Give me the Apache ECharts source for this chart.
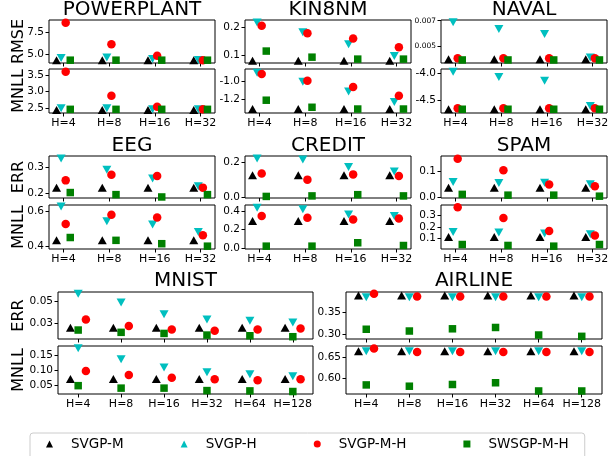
<!DOCTYPE html>
<html><head><meta charset="utf-8">
<script src="https://cdn.jsdelivr.net/npm/echarts@6/dist/echarts.min.js"></script>
<style>html,body{margin:0;padding:0;background:#fff}#c{width:614px;height:456px}</style>
</head><body><div id="c"></div>
<script>
// ---------- categories / names ----------
const catsSmall = ['H=4', 'H=8', 'H=16', 'H=32'];
const catsLarge = ['H=4', 'H=8', 'H=16', 'H=32', 'H=64', 'H=128'];
const methods = ['SVGP-M', 'SVGP-H', 'SVGP-M-H', 'SWSGP-M-H'];

// ---------- POWERPLANT ----------
const ppRMSE_M  = [4.30, 4.30, 4.30, 4.30];
const ppRMSE_H  = [4.55, 4.60, 4.42, 4.32];
const ppRMSE_MH = [8.56, 6.10, 4.80, 4.30];
const ppRMSE_SW = [4.30, 4.30, 4.30, 4.30];
const ppMNLL_M  = [2.45, 2.45, 2.45, 2.45];
const ppMNLL_H  = [2.50, 2.50, 2.47, 2.47];
const ppMNLL_MH = [3.60, 2.88, 2.55, 2.47];
const ppMNLL_SW = [2.47, 2.47, 2.47, 2.47];
// ---------- KIN8NM ----------
const knRMSE_M  = [0.079, 0.079, 0.079, 0.079];
const knRMSE_H  = [0.217, 0.182, 0.139, 0.096];
const knRMSE_MH = [0.205, 0.178, 0.159, 0.128];
const knRMSE_SW = [0.114, 0.092, 0.085, 0.085];
const knMNLL_M  = [-1.31, -1.31, -1.31, -1.31];
const knMNLL_H  = [-0.898, -1.00, -1.11, -1.23];
const knMNLL_MH = [-0.913, -0.99, -1.06, -1.16];
const knMNLL_SW = [-1.21, -1.29, -1.31, -1.31];
// ---------- NAVAL ----------
const nvRMSE_M  = [0.00395, 0.00395, 0.00395, 0.00395];
const nvRMSE_H  = [0.00687, 0.00634, 0.00594, 0.00410];
const nvRMSE_MH = [0.00403, 0.00403, 0.00403, 0.00403];
const nvRMSE_SW = [0.00390, 0.00390, 0.00390, 0.00390];
const nvMNLL_M  = [-4.67, -4.67, -4.67, -4.67];
const nvMNLL_H  = [-3.97, -4.07, -4.14, -4.61];
const nvMNLL_MH = [-4.65, -4.65, -4.65, -4.65];
const nvMNLL_SW = [-4.67, -4.67, -4.67, -4.67];
// ---------- EEG ----------
const eegERR_M   = [0.223, 0.223, 0.223, 0.223];
const eegERR_H   = [0.335, 0.292, 0.258, 0.228];
const eegERR_MH  = [0.251, 0.273, 0.268, 0.223];
const eegERR_SW  = [0.204, 0.196, 0.187, 0.196];
const eegMNLL_M  = [0.433, 0.433, 0.433, 0.433];
const eegMNLL_H  = [0.624, 0.541, 0.522, 0.480];
const eegMNLL_MH = [0.525, 0.578, 0.562, 0.462];
const eegMNLL_SW = [0.449, 0.433, 0.414, 0.400];
// ---------- CREDIT ----------
const crERR_M   = [0.124, 0.124, 0.124, 0.124];
const crERR_H   = [0.220, 0.214, 0.171, 0.146];
const crERR_MH  = [0.134, 0.099, 0.129, 0.120];
const crERR_SW  = [0.003, 0.006, 0.013, 0.006];
const crMNLL_M  = [0.291, 0.291, 0.291, 0.291];
const crMNLL_H  = [0.436, 0.420, 0.363, 0.347];
const crMNLL_MH = [0.345, 0.326, 0.308, 0.318];
const crMNLL_SW = [0.018, 0.018, 0.055, 0.025];
// ---------- SPAM ----------
const spERR_M   = [0.036, 0.036, 0.036, 0.036];
const spERR_H   = [0.058, 0.054, 0.055, 0.049];
const spERR_MH  = [0.147, 0.103, 0.048, 0.041];
const spERR_SW  = [0.010, 0.007, 0.007, 0.003];
const spMNLL_M  = [0.114, 0.114, 0.114, 0.114];
const spMNLL_H  = [0.157, 0.152, 0.143, 0.137];
const spMNLL_MH = [0.366, 0.276, 0.166, 0.128];
const spMNLL_SW = [0.051, 0.043, 0.037, 0.051];
// ---------- MNIST ----------
const mnERR_M   = [0.0255, 0.0255, 0.0255, 0.0255, 0.0255, 0.0255];
const mnERR_H   = [0.0567, 0.0485, 0.0379, 0.0331, 0.0318, 0.0304];
const mnERR_MH  = [0.0331, 0.0270, 0.0240, 0.0228, 0.0240, 0.0247];
const mnERR_SW  = [0.0234, 0.0213, 0.0203, 0.0188, 0.0182, 0.0173];
const mnMNLL_M  = [0.072, 0.072, 0.072, 0.072, 0.072, 0.072];
const mnMNLL_H  = [0.172, 0.136, 0.109, 0.094, 0.087, 0.081];
const mnMNLL_MH = [0.098, 0.085, 0.076, 0.071, 0.068, 0.071];
const mnMNLL_SW = [0.050, 0.042, 0.042, 0.034, 0.033, 0.031];
// ---------- AIRLINE ----------
const alERR_M   = [0.387, 0.387, 0.387, 0.387, 0.387, 0.387];
const alERR_H   = [0.383, 0.383, 0.383, 0.383, 0.383, 0.383];
const alERR_MH  = [0.391, 0.385, 0.385, 0.385, 0.385, 0.385];
const alERR_SW  = [0.311, 0.307, 0.312, 0.315, 0.298, 0.295];
const alMNLL_M  = [0.663, 0.663, 0.663, 0.663, 0.663, 0.663];
const alMNLL_H  = [0.663, 0.663, 0.663, 0.663, 0.663, 0.663];
const alMNLL_MH = [0.669, 0.661, 0.661, 0.661, 0.661, 0.661];
const alMNLL_SW = [0.585, 0.582, 0.586, 0.590, 0.571, 0.571];

// ---------- tick labels ----------
const ppRMSETicks = [5.0, 7.5],   ppMNLLTicks = [2.5, 3.0, 3.5];
const knRMSETicks = [0.1, 0.2],   knMNLLTicks = [-1.2, -1.0];
const nvRMSETicks = [0.005, 0.007], nvMNLLTicks = [-4.5, -4.0];
const eegERRTicks = [0.2, 0.3],   eegMNLLTicks = [0.4, 0.6];
const crERRTicks = [0.0, 0.2],    crMNLLTicks = [0.0, 0.2, 0.4];
const spERRTicks = [0.0, 0.1],    spMNLLTicks = [0.1, 0.2, 0.3];
const mnERRTicks = [0.03, 0.05],  mnMNLLTicks = [0.05, 0.10, 0.15];
const alERRTicks = [0.30, 0.35],  alMNLLTicks = [0.60, 0.65];

// ---------- layout ----------
const FONT = 'DejaVu Sans';
const off4 = [-0.15, -0.05, 0.05, 0.15];
const off6 = [-0.18, 0, 0.18, 0];
const xr4 = [-0.315, 3.315], xr6 = [-0.47, 5.47];
const styles = [
  {symbol: 'triangle', size: [9, 8], rotate: 0,   color: '#000000'},
  {symbol: 'triangle', size: [9, 8], rotate: 180, color: '#00bfbf'},
  {symbol: 'circle',   size: 8.5,    rotate: 0,   color: '#ff0000'},
  {symbol: 'rect',     size: 7.5,    rotate: 0,   color: '#008000'}
];
const colX = [49, 245, 441], colW = 166;
const r1 = [[20, 43], [69, 44]], r2 = [[156, 42], [205, 44]], r3 = [[292, 47], [346, 48]];

const panels = [
  {box: [colX[0], r1[0]], w: colW, cats: catsSmall, xr: xr4, off: off4, ticks: ppRMSETicks, dec: 1, yr: [3.98, 8.86], name: 'RMSE', gap: 22, data: [ppRMSE_M, ppRMSE_H, ppRMSE_MH, ppRMSE_SW]},
  {box: [colX[0], r1[1]], w: colW, cats: catsSmall, xr: xr4, off: off4, ticks: ppMNLLTicks, dec: 1, yr: [2.36, 3.68], name: 'MNLL', gap: 22, showX: true, data: [ppMNLL_M, ppMNLL_H, ppMNLL_MH, ppMNLL_SW]},
  {box: [colX[1], r1[0]], w: colW, cats: catsSmall, xr: xr4, off: off4, ticks: knRMSETicks, dec: 1, yr: [0.071, 0.226], data: [knRMSE_M, knRMSE_H, knRMSE_MH, knRMSE_SW]},
  {box: [colX[1], r1[1]], w: colW, cats: catsSmall, xr: xr4, off: off4, ticks: knMNLLTicks, dec: 1, yr: [-1.355, -0.856], showX: true, data: [knMNLL_M, knMNLL_H, knMNLL_MH, knMNLL_SW]},
  {box: [colX[2], r1[0]], w: colW, cats: catsSmall, xr: xr4, off: off4, ticks: nvRMSETicks, dec: 3, yr: [0.00366, 0.00705], fs: 7.5, data: [nvRMSE_M, nvRMSE_H, nvRMSE_MH, nvRMSE_SW]},
  {box: [colX[2], r1[1]], w: colW, cats: catsSmall, xr: xr4, off: off4, ticks: nvMNLLTicks, dec: 1, yr: [-4.74, -3.92], showX: true, data: [nvMNLL_M, nvMNLL_H, nvMNLL_MH, nvMNLL_SW]},

  {box: [colX[0], r2[0]], w: colW, cats: catsSmall, xr: xr4, off: off4, ticks: eegERRTicks, dec: 1, yr: [0.183, 0.345], name: 'ERR', gap: 22, data: [eegERR_M, eegERR_H, eegERR_MH, eegERR_SW]},
  {box: [colX[0], r2[1]], w: colW, cats: catsSmall, xr: xr4, off: off4, ticks: eegMNLLTicks, dec: 1, yr: [0.384, 0.633], name: 'MNLL', gap: 22, showX: true, data: [eegMNLL_M, eegMNLL_H, eegMNLL_MH, eegMNLL_SW]},
  {box: [colX[1], r2[0]], w: colW, cats: catsSmall, xr: xr4, off: off4, ticks: crERRTicks, dec: 1, yr: [-0.006, 0.234], data: [crERR_M, crERR_H, crERR_MH, crERR_SW]},
  {box: [colX[1], r2[1]], w: colW, cats: catsSmall, xr: xr4, off: off4, ticks: crMNLLTicks, dec: 1, yr: [-0.013, 0.466], showX: true, data: [crMNLL_M, crMNLL_H, crMNLL_MH, crMNLL_SW]},
  {box: [colX[2], r2[0]], w: colW, cats: catsSmall, xr: xr4, off: off4, ticks: spERRTicks, dec: 1, yr: [-0.004, 0.158], data: [spERR_M, spERR_H, spERR_MH, spERR_SW]},
  {box: [colX[2], r2[1]], w: colW, cats: catsSmall, xr: xr4, off: off4, ticks: spMNLLTicks, dec: 1, yr: [0.013, 0.385], showX: true, data: [spMNLL_M, spMNLL_H, spMNLL_MH, spMNLL_SW]},

  {box: [58, r3[0]], w: 255, cats: catsLarge, xr: xr6, off: off6, ticks: mnERRTicks, dec: 2, yr: [0.0152, 0.0582], name: 'ERR', gap: 31, data: [mnERR_M, mnERR_H, mnERR_MH, mnERR_SW]},
  {box: [58, r3[1]], w: 255, cats: catsLarge, xr: xr6, off: off6, ticks: mnMNLLTicks, dec: 2, yr: [0.0229, 0.179], name: 'MNLL', gap: 31, showX: true, data: [mnMNLL_M, mnMNLL_H, mnMNLL_MH, mnMNLL_SW]},
  {box: [346, r3[0]], w: 256, cats: catsLarge, xr: xr6, off: off6, ticks: alERRTicks, dec: 2, yr: [0.289, 0.395], data: [alERR_M, alERR_H, alERR_MH, alERR_SW]},
  {box: [346, r3[1]], w: 256, cats: catsLarge, xr: xr6, off: off6, ticks: alMNLLTicks, dec: 2, yr: [0.564, 0.675], showX: true, data: [alMNLL_M, alMNLL_H, alMNLL_MH, alMNLL_SW]}
];

const titles = [
  ['POWERPLANT', 0, 10], ['KIN8NM', 2, 10], ['NAVAL', 4, 10],
  ['EEG', 6, 146], ['CREDIT', 8, 146], ['SPAM', 10, 146],
  ['MNIST', 12, 281], ['AIRLINE', 14, 281]
];

const grid = [], xAxis = [], yAxis = [], series = [];
panels.forEach((p, k) => {
  const left = p.box[0], top = p.box[1][0], h = p.box[1][1];
  grid.push({show: true, left: left, top: top, width: p.w, height: h,
    borderColor: '#000', borderWidth: 1, backgroundColor: 'transparent', outerBoundsMode: 'none'});
  const xt = p.cats.map((c, i) => i);
  xAxis.push({type: 'value', gridIndex: k, min: p.xr[0], max: p.xr[1], position: 'bottom',
    axisLine: {show: false, onZero: false}, splitLine: {show: false},
    axisTick: {show: true, customValues: xt, length: 3.5, lineStyle: {color: '#000', width: 1}},
    axisLabel: {show: !!p.showX, customValues: xt, margin: 5, fontSize: 11, color: '#000', fontFamily: FONT,
      formatter: (v) => p.cats[Math.round(v)]}});
  const y = {type: 'value', gridIndex: k, min: p.yr[0], max: p.yr[1], position: 'left',
    axisLine: {show: false, onZero: false}, splitLine: {show: false},
    axisTick: {show: true, customValues: p.ticks, length: 3.5, lineStyle: {color: '#000', width: 1}},
    axisLabel: {customValues: p.ticks, margin: 5, fontSize: p.fs || 10.5, color: '#000', fontFamily: FONT,
      formatter: (v) => Number(v).toFixed(p.dec)}};
  if (p.name) {
    Object.assign(y, {name: p.name, nameLocation: 'middle', nameRotate: 90, nameGap: p.gap, nameMoveOverlap: false,
      nameTextStyle: {fontSize: 16, color: '#000', fontFamily: FONT}});
  }
  yAxis.push(y);
  p.data.forEach((vals, m) => {
    const s = styles[m];
    series.push({type: 'scatter', name: methods[m], xAxisIndex: k, yAxisIndex: k,
      symbol: s.symbol, symbolSize: s.size, symbolRotate: s.rotate,
      itemStyle: {color: s.color, opacity: 1}, z: 2 + m,
      data: vals.map((v, i) => [i + p.off[m], v])});
  });
});

const graphic = titles.map(([t, k, yy]) => {
  const p = panels[k];
  return {type: 'text', x: p.box[0] + p.w / 2, y: yy,
    style: {text: t, fill: '#000', font: '20px "' + FONT + '"', align: 'center', verticalAlign: 'middle'}};
});

const chart = echarts.init(document.getElementById('c'), null, {renderer: 'canvas'});
chart.setOption({
  animation: false,
  backgroundColor: '#fff',
  textStyle: {fontFamily: FONT},
  grid, xAxis, yAxis, series, graphic,
  legend: {data: methods, left: 30, top: 433, orient: 'horizontal', selectedMode: false,
    itemWidth: 7, itemHeight: 7, itemGap: 57, padding: [4, 16, 8, 16],
    borderColor: '#cccccc', borderWidth: 1, borderRadius: 3,
    textStyle: {fontSize: 13.5, color: '#000', fontFamily: FONT, padding: [0, 0, 0, 13]}}
});
</script></body></html>
